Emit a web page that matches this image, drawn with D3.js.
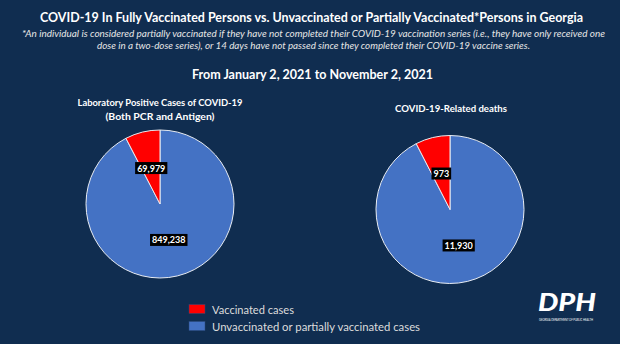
<!DOCTYPE html>
<html><head><meta charset="utf-8">
<script src="https://cdn.jsdelivr.net/npm/d3@7"></script>
<style>
html,body{margin:0;padding:0;background:#102d50;}
svg{display:block;}
text{font-family:Lato,"Open Sans",sans-serif;}
</style></head>
<body><svg id="c" width="620" height="344"></svg>
<script>
const categories = ["Unvaccinated or partially vaccinated cases", "Vaccinated cases"];
const legendOrder = ["Vaccinated cases", "Unvaccinated or partially vaccinated cases"];
const casesValues = [849238, 69979];
const deathsValues = [11930, 973];
const chartTitles = [["Laboratory Positive Cases of COVID-19", "(Both PCR and Antigen)"], ["COVID-19-Related deaths"]];
const colors = {"Vaccinated cases": "#ff0000", "Unvaccinated or partially vaccinated cases": "#4472c4"};

const svg = d3.select("#c");

function txt(x, y, s, opts) {
  const t = svg.append("text").attr("x", x).attr("y", y).text(s)
    .attr("text-anchor", opts.anchor || "middle")
    .attr("dominant-baseline", "central")
    .attr("fill", opts.fill || "#ffffff")
    .attr("font-size", opts.size)
    .attr("font-weight", opts.weight || "normal")
    .attr("font-style", opts.style || "normal");
  if (opts.len) t.attr("textLength", opts.len).attr("lengthAdjust", "spacingAndGlyphs");
  return t;
}

txt(311.5, 17, "COVID-19 In Fully Vaccinated Persons vs. Unvaccinated or Partially Vaccinated*Persons in Georgia", {size: 13, weight: "bold", len: 543});
txt(313.5, 33, "*An individual is considered partially vaccinated if they have not completed their COVID-19 vaccination series (i.e., they have only received one", {size: 9.5, style: "italic", fill: "#e6e6e6", len: 583});
txt(313.5, 45, "dose in a two-dose series), or 14 days have not passed since they completed their COVID-19 vaccine series.", {size: 9.5, style: "italic", fill: "#e6e6e6", len: 433});
txt(312.5, 74, "From January 2, 2021 to November 2, 2021", {size: 12.5, weight: "bold", len: 241});

const pie = d3.pie().sort(null).value(d => d.value);
const charts = [
  {cx: 160, cy: 204, r: 74, values: casesValues, titleY: [102, 116], titleX: 160, titleLen: [165, 109]},
  {cx: 450, cy: 209.5, r: 74, values: deathsValues, titleY: [108], titleX: 451, titleLen: [112]}
];

charts.forEach((c, i) => {
  chartTitles[i].forEach((line, j) => {
    txt(c.titleX, c.titleY[j], line, {size: 10, weight: "bold", len: c.titleLen[j]});
  });
  const data = categories.map((k, j) => ({key: k, value: c.values[j]}));
  const arcs = pie(data);
  const arc = d3.arc().innerRadius(0).outerRadius(c.r);
  const labelArc = d3.arc().innerRadius(c.r * 0.5).outerRadius(c.r * 0.5);
  const g = svg.append("g").attr("transform", `translate(${c.cx},${c.cy})`);
  g.selectAll("path").data(arcs).join("path")
    .attr("d", arc)
    .attr("fill", d => colors[d.data.key])
    .attr("stroke", "#e8ecf2").attr("stroke-width", 1);
  const fmt = d3.format(",");
  arcs.forEach(a => {
    const [lx, ly] = labelArc.centroid(a);
    const lg = g.append("g").attr("transform", `translate(${lx},${ly})`);
    const t = lg.append("text").text(fmt(a.data.value))
      .attr("text-anchor", "middle").attr("dominant-baseline", "central")
      .attr("fill", "#ffffff").attr("font-size", 9).attr("font-weight", "bold");
    const bb = t.node().getBBox();
    lg.insert("rect", "text").attr("x", bb.x - 2).attr("y", bb.y - 0.5)
      .attr("width", bb.width + 4).attr("height", bb.height + 1).attr("fill", "#000000");
  });
});

// legend
const legendLens = [82, 208];
const lg = svg.append("g");
legendOrder.forEach((k, i) => {
  const y = 309 + i * 17;
  lg.append("rect").attr("x", 189).attr("y", y - 4.5).attr("width", 16).attr("height", 9)
    .attr("fill", colors[k]).attr("stroke", "#2a4a7a").attr("stroke-width", 0.5);
  txt(212, y, k, {anchor: "start", size: 11, fill: "#dcdcdc", len: legendLens[i]});
});

// DPH logo
const logo = svg.append("g");
logo.append("text").attr("x", 538).attr("y", 311).text("DPH")
  .attr("fill", "#ffffff").attr("font-size", 25).attr("font-weight", "900")
  .attr("font-style", "italic").attr("font-family", "Lato, sans-serif")
  .attr("textLength", 58).attr("lengthAdjust", "spacingAndGlyphs");
logo.append("text").attr("x", 539).attr("y", 321).text("GEORGIA DEPARTMENT OF PUBLIC HEALTH")
  .attr("fill", "#ffffff").attr("font-size", 3).attr("textLength", 54).attr("lengthAdjust", "spacingAndGlyphs");
</script>
</body></html>
